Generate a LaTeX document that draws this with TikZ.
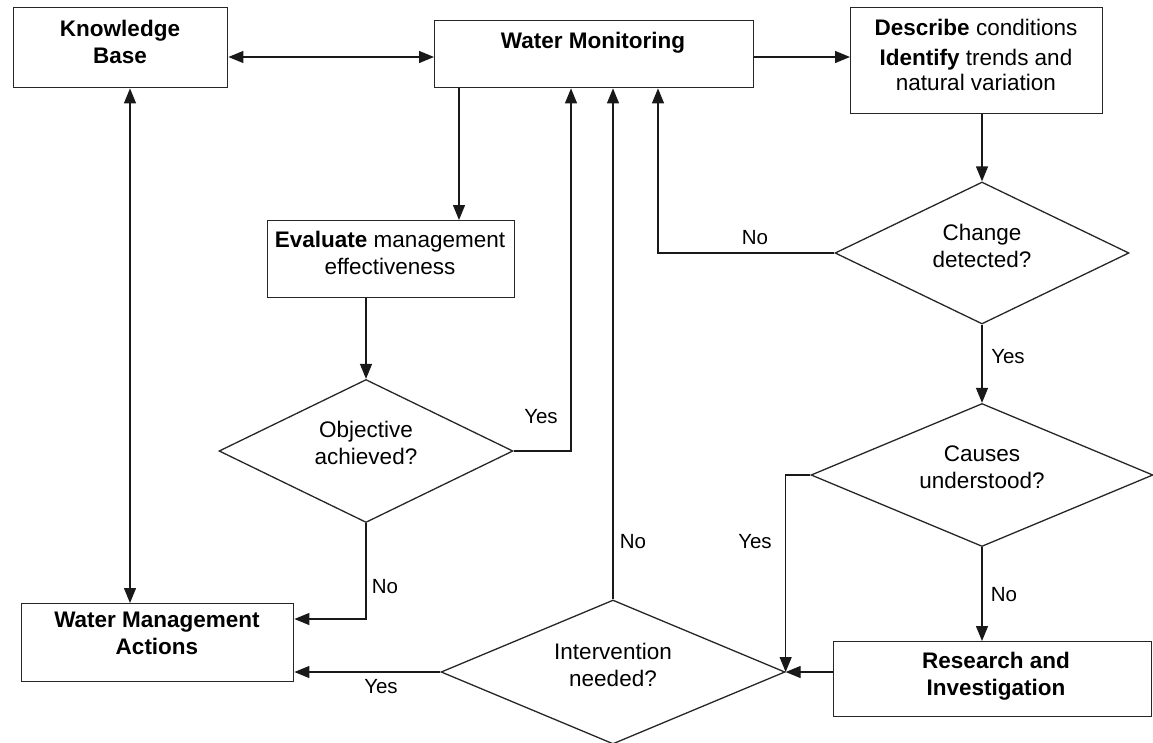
\documentclass[tikz,border=0pt]{standalone}
\usepackage{fontspec}
\setmainfont{Liberation Sans}
\usetikzlibrary{arrows.meta,shapes.geometric}
\tikzset{
  rect/.style={draw=black!85, line width=1.4pt, inner sep=0pt, anchor=north west},
  dia/.style={draw=black!85, line width=1.3pt, diamond, inner sep=0pt},
  txt/.style={align=center, inner sep=0pt, font=\fontsize{22.5}{27}\selectfont},
  btxt/.style={align=center, inner sep=0pt, font=\fontsize{22.5}{27}\selectfont\bfseries},
  lbl/.style={inner sep=0pt, font=\fontsize{20.5}{24}\selectfont},
  conn/.style={draw=black!90, line width=1.3pt},
  arr/.style={conn, -{Triangle[length=15pt,width=12pt]}},
  darr/.style={conn, {Triangle[length=15pt,width=12pt]}-{Triangle[length=15pt,width=12pt]}}
}
\begin{document}
\begin{tikzpicture}[x=1pt,y=-1pt]
\useasboundingbox (0,0) rectangle (1153,742);
% level and track coordinates
\coordinate (top) at (0,57);
\coordinate (xeval) at (459,0);
\coordinate (xyes) at (571,0);
\coordinate (xno) at (658,0);
\coordinate (yno) at (0,619);
\coordinate (xkb) at (130,0);

% boxes
\node[rect, minimum width=214pt, minimum height=80pt] (kb) at (13,7) {};
\node[btxt] (kbt) at (120,42) {Knowledge\\Base};
\node[rect, minimum width=319pt, minimum height=67pt] (wm) at (434,20) {};
\node[btxt] (wmt) at (593,43) {Water Monitoring};
\node[rect, minimum width=252pt, minimum height=106pt] (desc) at (850,7) {};
\node[txt, font=\fontsize{22.5}{25}\selectfont] (desct) at (976,55) {\textbf{Describe} conditions\\[5pt]\textbf{Identify} trends and\\natural variation};
\node[rect, minimum width=247pt, minimum height=77pt] (eval) at (267,220) {};
\node[txt] (evalt) at (390,253) {\textbf{Evaluate} management\\effectiveness};
\node[rect, minimum width=272pt, minimum height=78pt] (wma) at (21,603) {};
\node[btxt] (wmat) at (157,633.5) {Water Management\\Actions};
\node[rect, minimum width=318pt, minimum height=75pt] (ri) at (833,641) {};
\node[btxt] (rit) at (996,676.5) {Research and\\Investigation};

% diamonds
\node[dia, minimum width=294pt, minimum height=143pt] (obj) at (366,451) {};
\node[txt] (objt) at (366,443) {Objective\\achieved?};
\node[dia, minimum width=294pt, minimum height=142pt] (chg) at (982,253) {};
\node[txt] (chgt) at (982,246) {Change\\detected?};
\node[dia, minimum width=342pt, minimum height=143pt] (cau) at (982,475) {};
\node[txt] (caut) at (982,467) {Causes\\understood?};
\node[dia, minimum width=344pt, minimum height=144pt] (int) at (613,672) {};
\node[txt] (intt) at (613,665) {Intervention\\needed?};

% connectors
\draw[darr] (kb.east |- top) -- (wm.west |- top);
\draw[arr] (wm.east |- top) -- (desc.west |- top);
\draw[arr] (wm.south -| xeval) -- (eval.north -| xeval);
\draw[arr] (eval.south -| obj.north) -- (obj.north);
\draw[arr] (desc.south -| chg.north) -- (chg.north);
\draw[arr] (chg.west) -- (chg.west -| xno) -- (wm.south -| xno);
\draw[arr] (chg.south) -- (cau.north);
\draw[arr] (cau.west) -- (cau.west -| int.east) -- (int.east);
\draw[arr] (cau.south) -- (ri.north -| cau.south);
\draw[arr] (ri.west |- int.east) -- (int.east);
\draw[arr] (int.north) -- (wm.south -| int.north);
\draw[arr] (int.west) -- (wma.east |- int.west);
\draw[arr] (obj.east) -- (obj.east -| xyes) -- (wm.south -| xyes);
\draw[arr] (obj.south) -- (obj.south |- yno) -- (wma.east |- yno);
\draw[darr] (kb.south -| xkb) -- (wma.north -| xkb);

% labels
\node[lbl] (l1) at (755,238) {No};
\node[lbl] (l2) at (1008,357) {Yes};
\node[lbl] (l3) at (755,542) {Yes};
\node[lbl] (l4) at (1004,595) {No};
\node[lbl] (l5) at (633,542) {No};
\node[lbl] (l6) at (381,687) {Yes};
\node[lbl] (l7) at (541,417) {Yes};
\node[lbl] (l8) at (385,587) {No};
\end{tikzpicture}
\end{document}
